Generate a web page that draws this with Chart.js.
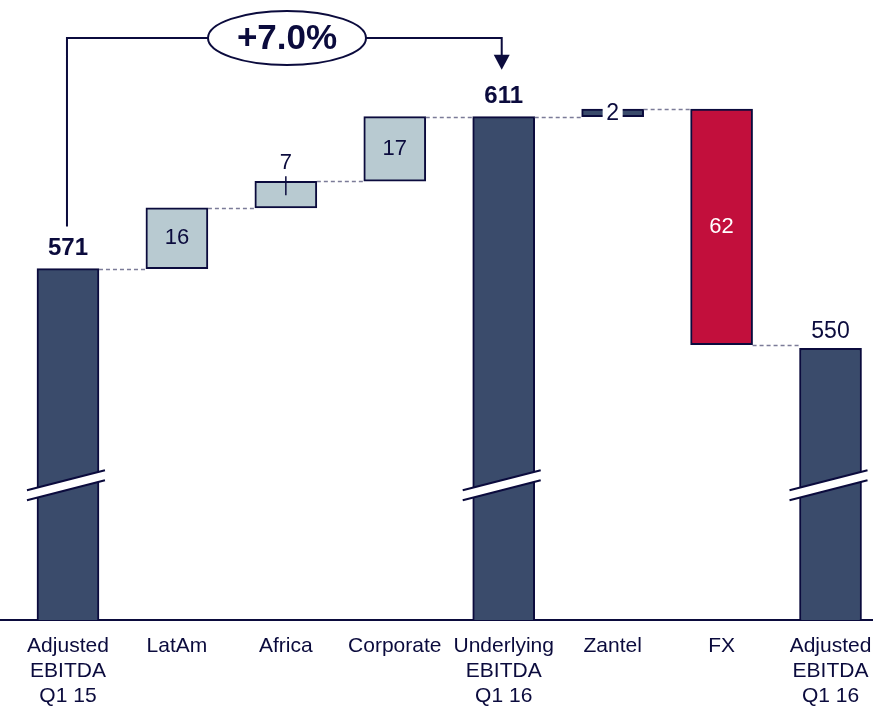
<!DOCTYPE html>
<html>
<head>
<meta charset="utf-8">
<script src="https://cdn.jsdelivr.net/npm/chart.js@4.4.1/dist/chart.umd.min.js"></script>
<style>
  html, body { margin: 0; padding: 0; background: #fff; }
  #wrap { width: 873px; height: 709px; position: relative; }
</style>
</head>
<body>
<div id="wrap"><canvas id="ebitda-bridge"></canvas></div>
<script>
/* Bridge data */
let categories = [
    ['Adjusted', 'EBITDA', 'Q1 15'], 'LatAm', 'Africa', 'Corporate',
    ['Underlying', 'EBITDA', 'Q1 16'], 'Zantel', 'FX', ['Adjusted', 'EBITDA', 'Q1 16']
]
let stepValues = [571, 16, 7, 17, 611, 2, -62, 550]
let stepKinds = ['total', 'delta', 'delta', 'delta', 'total', 'delta', 'delta', 'total']
let growthLabel = '+7.0%'

let navy = '#0b0b3d'
let totalColor = '#3a4b6b'
let upColor = '#b8cad1'
let downColor = '#c20f3c'
let dashColor = '#7b7b98'
let fontFamily = '"Liberation Sans", Arial, sans-serif'

// build floating ranges for the bars from the running total
let running = 0
let totalBars = []
let stepBars = []
let levels = []
stepValues.forEach(function (v, i) {
    if (stepKinds[i] == 'total') {
        running = v
        totalBars.push({ x: i, y: v })
    } else {
        let start = running
        running = running + v
        stepBars.push({ x: i, y: [Math.min(start, running), Math.max(start, running)] })
    }
    levels.push(running)
})

let stepColors = stepBars.map(function (b) {
    if (b.x == 5) return totalColor
    return stepValues[b.x] < 0 ? downColor : upColor
})

// dashed links, value labels, axis breaks and the growth bracket
let bridgeExtras = {
    id: 'bridgeExtras',
    afterDatasetsDraw(chart) {
        let ctx = chart.ctx
        let area = chart.chartArea
        let yScale = chart.scales.y
        let bars = []
        chart.getDatasetMeta(0).data.forEach(function (el, j) { bars[totalBars[j].x] = el })
        chart.getDatasetMeta(1).data.forEach(function (el, j) { bars[stepBars[j].x] = el })

        ctx.save()
        // connectors
        ctx.strokeStyle = dashColor
        ctx.lineWidth = 1.3
        ctx.setLineDash([4, 3])
        for (let i = 0; i < bars.length - 1; i++) {
            let a = bars[i], b = bars[i + 1]
            let y = Math.round(yScale.getPixelForValue(levels[i])) + 0.5
            ctx.beginPath()
            ctx.moveTo(a.x + a.width / 2, y)
            ctx.lineTo(b.x - b.width / 2, y)
            ctx.stroke()
        }
        ctx.setLineDash([])

        // axis breaks on the total bars
        let breakY = area.top + (area.bottom - area.top) * 0.781
        bars.forEach(function (el, i) {
            if (stepKinds[i] != 'total') return
            let x0 = el.x - 41, x1 = el.x + 37
            ctx.beginPath()
            ctx.moveTo(x0, breakY + 6)
            ctx.lineTo(x1, breakY - 14)
            ctx.lineTo(x1, breakY - 4)
            ctx.lineTo(x0, breakY + 16)
            ctx.closePath()
            ctx.fillStyle = '#fff'
            ctx.fill()
            ctx.strokeStyle = navy
            ctx.lineWidth = 2
            ctx.beginPath()
            ctx.moveTo(x0, breakY + 6)
            ctx.lineTo(x1, breakY - 14)
            ctx.moveTo(x0, breakY + 16)
            ctx.lineTo(x1, breakY - 4)
            ctx.stroke()
        })

        // value labels
        ctx.textAlign = 'center'
        ctx.textBaseline = 'middle'
        bars.forEach(function (el, i) {
            let txt = String(Math.abs(stepValues[i]))
            let top = Math.min(el.y, el.base)
            let mid = (el.y + el.base) / 2
            ctx.fillStyle = navy
            if (stepKinds[i] == 'total') {
                ctx.font = (i == 7 ? '23px ' : 'bold 24px ') + fontFamily
                ctx.fillText(txt, el.x, top - (i == 7 ? 17 : 20))
            } else if (i == 2) {
                ctx.font = '22px ' + fontFamily
                ctx.fillText(txt, el.x, top - 18)
                ctx.strokeStyle = navy
                ctx.lineWidth = 1.5
                ctx.beginPath()
                ctx.moveTo(el.x, top - 5)
                ctx.lineTo(el.x, top + 14)
                ctx.stroke()
            } else if (i == 5) {
                ctx.font = '23px ' + fontFamily
                ctx.fillStyle = '#fff'
                ctx.fillRect(el.x - 10, top - 2, 20, el.base - el.y + 6)
                ctx.fillStyle = navy
                ctx.fillText(txt, el.x, mid + 1)
            } else {
                ctx.font = '22px ' + fontFamily
                ctx.fillStyle = stepValues[i] < 0 ? '#fff' : navy
                ctx.fillText(txt, el.x, mid)
            }
        })

        // growth bracket between the two totals
        let from = bars[0], to = bars[4]
        let lineY = 38
        ctx.strokeStyle = navy
        ctx.lineWidth = 2
        ctx.beginPath()
        ctx.moveTo(from.x - 1, from.y - 42)
        ctx.lineTo(from.x - 1, lineY)
        ctx.lineTo(to.x - 2, lineY)
        ctx.lineTo(to.x - 2, to.y - 60)
        ctx.stroke()
        ctx.fillStyle = navy
        ctx.beginPath()
        ctx.moveTo(to.x - 10, to.y - 62)
        ctx.lineTo(to.x + 6, to.y - 62)
        ctx.lineTo(to.x - 2, to.y - 47)
        ctx.closePath()
        ctx.fill()

        let cx = 287
        ctx.beginPath()
        ctx.ellipse(cx, lineY, 79, 27, 0, 0, Math.PI * 2)
        ctx.fillStyle = '#fff'
        ctx.fill()
        ctx.stroke()
        ctx.fillStyle = navy
        ctx.font = 'bold 35px ' + fontFamily
        ctx.fillText(growthLabel, cx, lineY + 1)
        ctx.restore()
    }
}

let chartCanvas = document.querySelector('#ebitda-bridge')
let ctx = chartCanvas.getContext('2d')

let bridgeChart = new Chart(ctx, {
    type: 'bar',
    data: {
        datasets: [
            {
                data: totalBars,
                backgroundColor: totalColor,
                borderColor: navy,
                borderWidth: 2,
                borderSkipped: 'bottom',
                barThickness: 62,
                grouped: false
            },
            {
                data: stepBars,
                backgroundColor: stepColors,
                borderColor: navy,
                borderWidth: 2,
                borderSkipped: false,
                barThickness: 62,
                grouped: false
            }
        ]
    },
    options: {
        responsive: true,
        maintainAspectRatio: false,
        animation: false,
        layout: { padding: 0 },
        plugins: {
            legend: { display: false },
            tooltip: { enabled: false }
        },
        scales: {
            x: {
                type: 'linear',
                offset: false,
                min: -0.624,
                max: 7.39,
                grid: { display: false, drawTicks: false },
                border: { display: true, color: navy, width: 2 },
                afterBuildTicks: function (scale) {
                    scale.ticks = categories.map(function (c, i) { return { value: i } })
                },
                afterFit: function (scale) {
                    // axis spans the full width; labels may overhang
                    scale.height = 89
                    scale.paddingLeft = 0
                    scale.paddingRight = 0
                },
                ticks: {
                    autoSkip: false,
                    maxRotation: 0,
                    padding: 14,
                    color: navy,
                    font: { family: fontFamily, size: 21, lineHeight: 1.19 },
                    callback: function (value) { return categories[value] }
                }
            },
            y: {
                display: false,
                min: 478.5,
                max: 641.7
            }
        }
    },
    plugins: [bridgeExtras]
})
</script>
</body>
</html>
